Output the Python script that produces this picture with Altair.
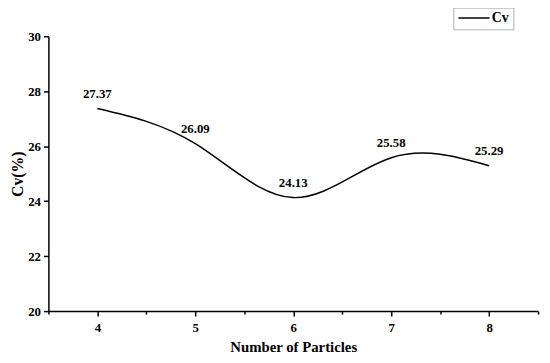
import altair as alt
import pandas as pd

particles = [4, 5, 6, 7, 8]
cv = [27.37, 26.09, 24.13, 25.58, 25.29]
series = ["Cv"] * 5
x_ticks = [3.5, 4, 4.5, 5, 5.5, 6, 6.5, 7, 7.5, 8, 8.5]
y_ticks = [20, 21, 22, 23, 24, 25, 26, 27, 28, 29, 30]

df = pd.DataFrame({"n": particles, "cv": cv, "s": series, "lab": [f"{v:.2f}" for v in cv]})

FONT = "Liberation Serif"

x = alt.X("n:Q", title="Number of Particles",
          scale=alt.Scale(domain=[3.5, 8.5], nice=False, zero=False),
          axis=alt.Axis(values=x_ticks, grid=False,
                        labelExpr="datum.value % 1 == 0 ? format(datum.value, 'd') : ''",
                        tickSize={"condition": {"test": "datum.value % 1 == 0", "value": 5}, "value": 3},
                        labelPadding=6, titlePadding=5, titleFontSize=15))
y = alt.Y("cv:Q", title="Cv(%)",
          scale=alt.Scale(domain=[20, 30], nice=False, zero=False),
          axis=alt.Axis(values=y_ticks, grid=False,
                        labelExpr="datum.value % 2 == 0 ? datum.label : ''",
                        tickSize={"condition": {"test": "datum.value % 2 == 0", "value": 5}, "value": 3},
                        labelPadding=3, titlePadding=2, titleFontSize=16))

line = alt.Chart(df).mark_line(interpolate="natural", strokeWidth=1.5).encode(
    x=x, y=y,
    color=alt.Color("s:N", scale=alt.Scale(range=["black"]),
                    legend=alt.Legend(title=None, orient="none", legendX=411, legendY=-29,
                                      symbolType="stroke", symbolSize=1000, symbolStrokeWidth=1.5,
                                      clipHeight=13, strokeColor="#b0b0b0", padding=4,
                                      labelFont=FONT, labelFontSize=14, labelFontWeight="bold",
                                      labelColor="black", labelOffset=1))
)

text = alt.Chart(df).mark_text(font=FONT, fontSize=13, fontWeight="bold", dy=-15,
                               color="black").encode(x="n:Q", y="cv:Q", text="lab:N")

chart = alt.layer(line, text).properties(
    width=497, height=279,
    autosize=alt.AutoSizeParams(type="none"),
    padding={"left": 41, "top": 26, "right": 4, "bottom": 50},
).configure_view(stroke=None).configure_axis(
    domainColor="black", domainWidth=1.5, tickColor="black", tickWidth=1.5,
    labelFont=FONT, labelFontSize=13, labelFontWeight="bold", labelColor="black",
    titleFont=FONT, titleFontWeight="bold", titleColor="black",
)

chart.save("out.html", embed_options={"renderer": "svg", "actions": False})
